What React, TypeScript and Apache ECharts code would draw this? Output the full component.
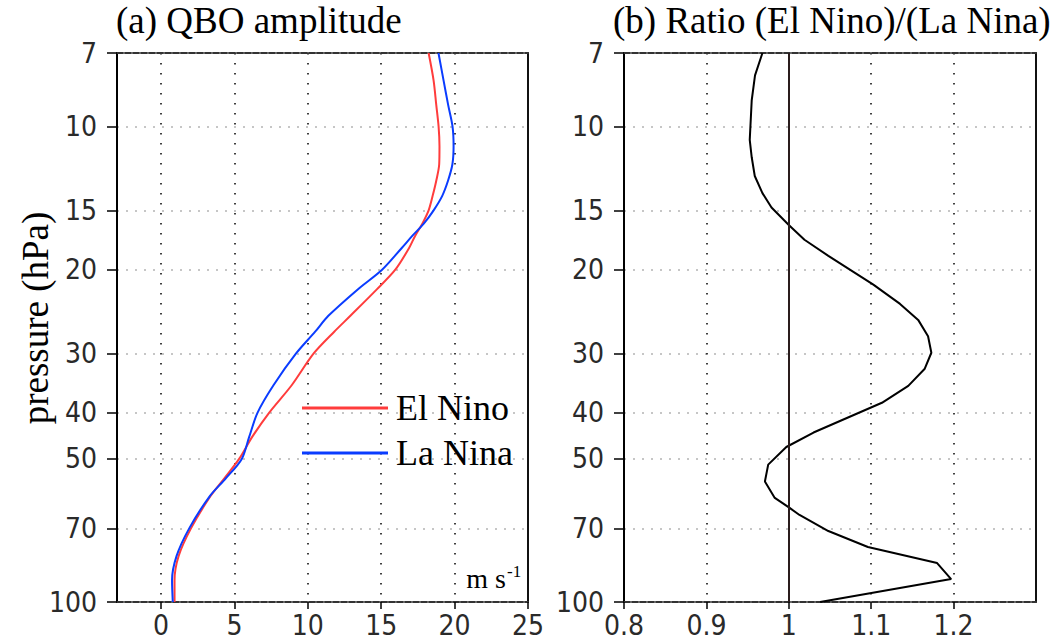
import React, { useEffect, useRef } from "react";
import * as echarts from "echarts";

// Pressure levels (hPa) for the QBO amplitude profiles
const pressureLevels = [7, 8, 9, 10, 11, 12, 13, 14, 15, 16, 17, 18, 20, 22, 25, 27, 30, 35, 40, 45, 50, 55, 60, 70, 80, 90, 100];
// QBO amplitude (m/s) in El Nino winters
const elNinoAmp = [18.23, 18.57, 18.75, 18.91, 18.97, 18.95, 18.75, 18.5, 18.23, 17.8, 17.3, 16.9, 15.96, 14.7, 12.9, 11.8, 10.4, 8.9, 7.36, 6.2, 5.32, 4.3, 3.35, 2.04, 1.2, 0.92, 0.92];
// QBO amplitude (m/s) in La Nina winters
const laNinaAmp = [18.9, 19.25, 19.56, 19.86, 19.93, 19.85, 19.55, 19.15, 18.57, 17.9, 17.1, 16.4, 15.06, 13.4, 11.4, 10.5, 9.2, 7.66, 6.57, 6.0, 5.5, 4.4, 3.3, 1.92, 1.06, 0.75, 0.8];

// Pressure levels (hPa) and amplitude ratio El Nino / La Nina
const ratioPressure = [7, 7.8, 8.8, 10.66, 11.6, 12.7, 13.8, 14.8, 16.1, 17.3, 18.7, 21.5, 23.6, 25.5, 27.6, 29.9, 32.3, 35.1, 38.1, 44, 47.2, 51.4, 55.8, 60.4, 63.4, 65.6, 70.9, 76.6, 82.8, 89.5, 100];
const ratioValues = [0.968, 0.959, 0.955, 0.9526, 0.955, 0.9587, 0.968, 0.979, 1.0, 1.019, 1.048, 1.1026, 1.135, 1.157, 1.169, 1.173, 1.165, 1.145, 1.113, 1.03, 0.997, 0.975, 0.971, 0.983, 1.001, 1.013, 1.048, 1.096, 1.18, 1.197, 1.038];

// Axis tick labels
const pressureTicks = [7, 10, 15, 20, 30, 40, 50, 70, 100];
const ampTicks = [0, 5, 10, 15, 20, 25];
const ratioTicks = [0.8, 0.9, 1, 1.1, 1.2];

const lg = (p: number) => Math.log10(p);

const SERIF = "Liberation Serif, Times New Roman, serif";
const NARROW = "Liberation Sans Narrow, DejaVu Sans Condensed, Liberation Sans, sans-serif";

const tickLabelStyle = {
  fontFamily: NARROW,
  fontSize: 28,
  color: "#2a2a2a",
};

function bottomAxis(gridIndex: number, min: number, max: number, ticks: number[]) {
  return {
    type: "value",
    gridIndex,
    position: "bottom",
    min,
    max,
    axisLine: { show: true, onZero: false, lineStyle: { color: "#333", width: 2, type: [6, 2] } },
    axisTick: { show: true, customValues: ticks, length: 7, lineStyle: { color: "#000", width: 1.5 } },
    axisLabel: {
      show: true,
      customValues: ticks,
      margin: 9,
      ...tickLabelStyle,
      formatter: (v: number) => String(Math.round(v * 10) / 10),
    },
    splitLine: { show: true, lineStyle: { color: "#000", width: 1.5, type: [1.5, 8.5] } },
  };
}

function topAxis(gridIndex: number, min: number, max: number) {
  return {
    type: "value",
    gridIndex,
    position: "top",
    min,
    max,
    axisLine: { show: true, onZero: false, lineStyle: { color: "#333", width: 2, type: [6, 2] } },
    axisTick: { show: false },
    axisLabel: { show: false },
    splitLine: { show: false },
  };
}

function leftAxis(gridIndex: number) {
  const ticks = pressureTicks.map(lg);
  return {
    type: "value",
    gridIndex,
    position: "left",
    min: lg(7),
    max: 2,
    inverse: true,
    axisLine: { show: true, onZero: false, lineStyle: { color: "#000", width: 2 } },
    axisTick: { show: true, customValues: ticks, length: 10, lineStyle: { color: "#000", width: 1.5 } },
    axisLabel: {
      show: true,
      customValues: ticks,
      margin: 20,
      ...tickLabelStyle,
      formatter: (v: number) => String(Math.round(Math.pow(10, v))),
    },
    splitLine: { show: true, lineStyle: { color: "#b4b4b4", width: 1.5, type: [2, 7] } },
  };
}

function rightAxis(gridIndex: number) {
  return {
    type: "value",
    gridIndex,
    position: "right",
    min: lg(7),
    max: 2,
    inverse: true,
    axisLine: { show: true, onZero: false, lineStyle: { color: "#111", width: 2 } },
    axisTick: { show: false },
    axisLabel: { show: false },
    splitLine: { show: false },
  };
}

export default function App() {
  const ref = useRef<HTMLDivElement>(null);

  useEffect(() => {
    document.body.style.margin = "0";
    if (!ref.current) return;
    const chart = echarts.init(ref.current, undefined, { renderer: "svg" });

    const elNinoData = elNinoAmp.map((v, i) => [v, lg(pressureLevels[i])]);
    const laNinaData = laNinaAmp.map((v, i) => [v, lg(pressureLevels[i])]);
    const ratioData = ratioValues.map((v, i) => [v, lg(ratioPressure[i])]);

    const titleStyle = { fontFamily: SERIF, fontSize: 37, fontWeight: "normal", color: "#000" };

    chart.setOption({
      animation: false,
      backgroundColor: "#fff",
      title: [
        { text: "(a) QBO amplitude", left: 116, top: 2, padding: 0, textStyle: titleStyle },
        { text: "(b) Ratio (El Nino)/(La Nina)", left: 613, top: 2, padding: 0, textStyle: titleStyle },
      ],
      legend: {
        data: ["El Nino", "La Nina"],
        orient: "vertical",
        left: 302,
        top: 388,
        padding: 0,
        icon: "rect",
        itemWidth: 86,
        itemHeight: 3,
        itemGap: 5,
        selectedMode: false,
        textStyle: {
          fontFamily: SERIF,
          fontSize: 36,
          color: "#000",
          lineHeight: 40,
          padding: [0, 0, 0, 3],
        },
      },
      grid: [
        { left: 117, top: 53, width: 411, height: 549 },
        { left: 624, top: 53, width: 412, height: 549 },
      ],
      xAxis: [
        bottomAxis(0, -3, 25, ampTicks),
        topAxis(0, -3, 25),
        bottomAxis(1, 0.8, 1.3, ratioTicks),
        topAxis(1, 0.8, 1.3),
      ],
      yAxis: [leftAxis(0), rightAxis(0), leftAxis(1), rightAxis(1)],
      series: [
        {
          name: "El Nino",
          type: "line",
          xAxisIndex: 0,
          yAxisIndex: 0,
          data: elNinoData,
          symbol: "none",
          smooth: 0.3,
          lineStyle: { color: "#ff3c3c", width: 2 },
          itemStyle: { color: "#ff3c3c" },
        },
        {
          name: "La Nina",
          type: "line",
          xAxisIndex: 0,
          yAxisIndex: 0,
          data: laNinaData,
          symbol: "none",
          smooth: 0.3,
          lineStyle: { color: "#0a3cff", width: 2 },
          itemStyle: { color: "#0a3cff" },
        },
        {
          name: "Ratio",
          type: "line",
          xAxisIndex: 2,
          yAxisIndex: 2,
          data: ratioData,
          symbol: "none",
          lineStyle: { color: "#000", width: 2 },
          itemStyle: { color: "#000" },
          markLine: {
            silent: true,
            symbol: "none",
            label: { show: false },
            lineStyle: { color: "#2a1c1c", width: 2, type: "solid" },
            data: [{ xAxis: 1 }],
          },
        },
      ],
      graphic: [
        {
          type: "text",
          x: 35,
          y: 318,
          rotation: Math.PI / 2,
          style: {
            text: "pressure (hPa)",
            fontFamily: SERIF,
            fontSize: 37,
            fill: "#000",
            align: "center",
            verticalAlign: "middle",
          },
        },
        {
          type: "text",
          x: 506,
          y: 592,
          style: {
            text: "m s",
            fontFamily: SERIF,
            fontSize: 28,
            fill: "#000",
            align: "right",
            verticalAlign: "bottom",
          },
        },
        {
          type: "text",
          x: 507,
          y: 580,
          style: {
            text: "-1",
            fontFamily: SERIF,
            fontSize: 17,
            fill: "#000",
            align: "left",
            verticalAlign: "bottom",
          },
        },
      ],
    });

    return () => chart.dispose();
  }, []);

  return <div ref={ref} style={{ width: 1059, height: 643 }} />;
}
